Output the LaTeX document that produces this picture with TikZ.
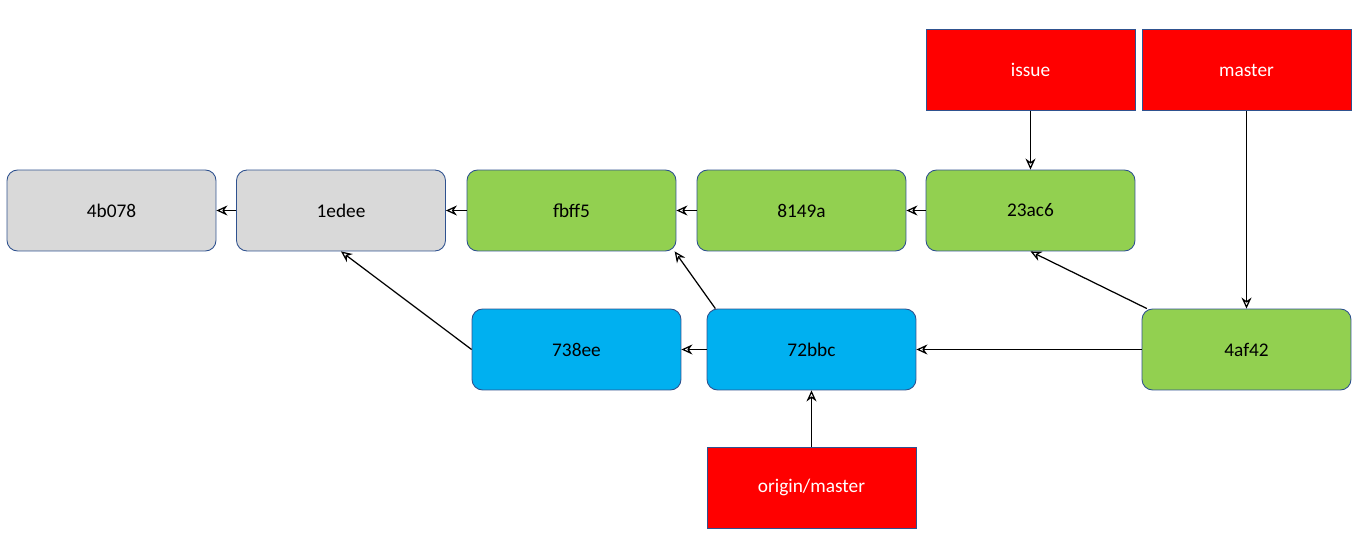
\documentclass[tikz,border=0pt]{standalone}
\usepackage{fontspec}
\setmainfont{Carlito}
\usetikzlibrary{arrows.meta, positioning}
\definecolor{oldgray}{HTML}{D9D9D9}
\definecolor{commitgreen}{HTML}{92D050}
\definecolor{remoteblue}{HTML}{00B0F0}
\definecolor{refred}{HTML}{FF0000}
\definecolor{edgeblue}{HTML}{2F528F}
\tikzset{
	commit/.style = {draw=edgeblue, line width=0.5pt, rounded corners=6pt,
		minimum width=4.18cm, minimum height=1.62cm, font=\fontsize{11}{13}\selectfont},
	ref/.style = {commit, rounded corners=0pt, fill=refred, text=white},
	parent/.style = {-{Stealth[open, length=2.2mm, width=2mm]}, line width=0.7pt}
}
\begin{document}
\begin{tikzpicture}[x=0.02cm, y=-0.02cm]
	\useasboundingbox (0,0) rectangle (1356,557);
	
	% commits
	\node [commit, fill=oldgray] (c4b078) at (111.5,210.5) {4b078};
	\node [commit, fill=oldgray] (c1edee) at (341,210.5) {1edee};
	\node [commit, fill=commitgreen] (cfbff5) at (571.5,210.5) {fbff5};
	\node [commit, fill=commitgreen] (c8149a) at (801.5,210.5) {8149a};
	\node [commit, fill=commitgreen] (c23ac6) at (1030.5,210.5) {23ac6};
	\node [commit, fill=remoteblue] (c738ee) at (576.5,349.5) {738ee};
	\node [commit, fill=remoteblue] (c72bbc) at (811.5,349.5) {72bbc};
	\node [commit, fill=commitgreen] (c4af42) at (1246.5,349.5) {4af42};
	
	% refs
	\node [ref] (issue) at (1030.5,70) {issue};
	\node [ref] (master) at (1246.5,70) {master};
	\node [ref] (origin) at (811.5,487.5) {origin/master};
	
	\draw [parent] (c1edee) -- (c4b078);
	\draw [parent] (cfbff5) -- (c1edee);
	\draw [parent] (c8149a) -- (cfbff5);
	\draw [parent] (c23ac6) -- (c8149a);
	\draw [parent] (c72bbc) -- (c738ee);
	\draw [parent] (c4af42) -- (c72bbc);
	\draw [parent] (c738ee.west) -- (c1edee.south);
	\draw [parent] ([xshift=5pt]c72bbc.north west) -- ([xshift=-1pt]cfbff5.south east);
	\draw [parent] ([xshift=3pt]c4af42.north west) -- (c23ac6.south);
	\draw [parent] (issue) -- (c23ac6);
	\draw [parent] (master) -- (c4af42);
	\draw [parent] (origin) -- (c72bbc);
\end{tikzpicture}
\end{document}
